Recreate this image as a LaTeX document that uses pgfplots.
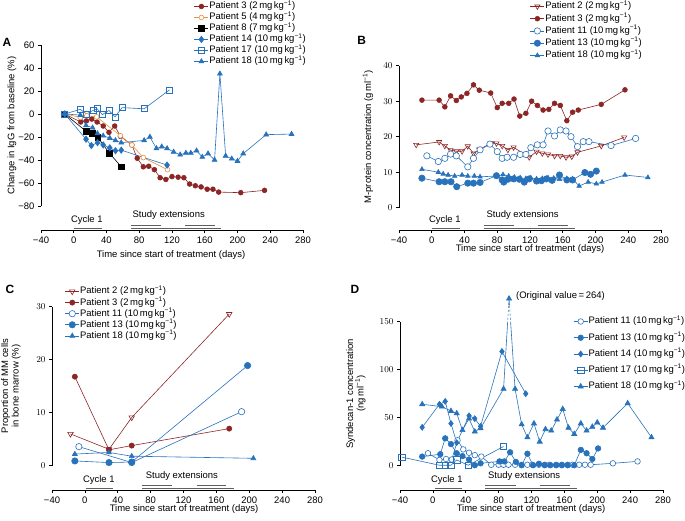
\documentclass[border=0pt]{standalone}
\usepackage{fontspec}
\setmainfont{Liberation Sans}
\usepackage{pgfplots}
\pgfplotsset{compat=1.18}
\definecolor{pred}{RGB}{140,38,38}
\definecolor{pblue}{RGB}{40,114,188}
\definecolor{porange}{RGB}{230,150,70}
\definecolor{bargray}{RGB}{95,95,95}
\newcommand{\mgkg}[1]{(#1\,mg\,kg\textsuperscript{−1})}
\newcommand{\fs}{\fontsize{9.5}{10.5}\selectfont}
\pgfplotsset{
  panel/.style={
    scale only axis, anchor=south west, clip=false,
    xmin=-40, xmax=280,
    axis x line*=bottom, axis y line*=left,
    axis line style={-, line width=0.6bp},
    y axis line style={draw=none},
    tick align=outside, major tick length=3bp,
    tick style={black, line width=0.6bp},
    xtick={-40,0,40,80,120,160,200,240,280},
    xticklabels={−40,0,40,80,120,160,200,240,280},
    tick label style={font=\fs},
    legend cell align=left,
    legend style={draw=none, fill=none, font=\fs, anchor=north west, inner sep=0pt, outer sep=0pt,
      nodes={inner sep=0.5bp, text height=7.5bp, text depth=2.5bp}},
    legend image code/.code={\draw[mark repeat=2,mark phase=2] plot coordinates {(0cm,0cm) (0.25cm,0cm) (0.5cm,0cm)};},
    every axis plot/.append style={line width=0.6bp},
  },
}
\begin{document}
\begin{tikzpicture}
\path[use as bounding box] (0,0) rectangle (685bp,-521bp);

% ---------------- Panel A ----------------
\begin{axis}[panel, at={(41bp,-230bp)}, width=262bp, height=185bp,
  ymin=-101, ymax=60, ytick={-80,-60,-40,-20,0,20,40,60},
  yticklabels={−80,−60,−40,−20,0,20,40,60},
  legend style={at={(0.584,1.238)}, row sep=0bp}]
\addplot[pred, mark=*, mark size=2.4bp, mark options={fill=pred}] coordinates {
(-11,0) (8.5,-7) (15.5,-6) (22,-4.5) (28.5,-7) (36,-10.5) (43,-16) (50,-10.5) (57,-19.5) (71,-27) (77.5,-38.5) (85,-46) (91.5,-45.5) (98.5,-48.5) (105.5,-55.5) (112.5,-57) (120,-54.5) (127.5,-55) (134.5,-55.5) (141.5,-61) (148.5,-62.5) (155.5,-63.5) (163,-65.5) (170,-65.5) (177,-68) (204,-68.5) (233,-66.5)};
\addlegendentry{Patient 3 \mgkg{2}}
\addplot[porange, mark=*, mark size=2.4bp, mark options={fill=white}] coordinates {
(-11,0) (8,-3) (16,-1.5) (28,-2.5) (57,-19) (71,-27) (85,-38) (114.5,-48.5)};
\addlegendentry{Patient 5 \mgkg{4}}
\addplot[black, mark=square*, mark size=2.8bp, mark options={fill=black}] coordinates {
(-11,0) (15,-15) (22.5,-17) (29.5,-20.5) (43.5,-34) (58,-46)};
\addlegendentry{Patient 8 \mgkg{7}}
\addplot[pblue, mark=diamond*, mark size=3.2bp, mark options={fill=pblue}] coordinates {
(-11,0) (15,-22) (21.5,-27.5) (29,-25) (36,-27) (44,-29.5) (51,-32) (58,-31.5) (114,-44.5)};
\addlegendentry{Patient 14 \mgkg{10}}
\addplot[pblue, mark=square, mark size=3bp, mark options={fill=white}] coordinates {
(-11,0) (8,4) (15.5,0) (23.5,3) (28.5,4.5) (35,-0.5) (43,3) (50.5,-2.5) (59,5.5) (86,4.5) (117,21)};
\addlegendentry{Patient 17 \mgkg{10}}
\addplot[pblue, mark=triangle*, mark size=2.8bp, mark options={fill=pblue}] coordinates {
(-11,0) (8,-1) (15,-10) (23,-12) (29,-17) (36,-19) (44,-21) (51,-23) (58,-25) (86,-23) (93,-20) (101,-30) (107.5,-28.5) (114,-30) (122,-33) (130,-35.5) (137,-34) (143,-34) (150,-32) (157,-37.5) (164,-34.5) (172,-40) (178.5,35) (185.5,-36.5) (193,-39) (200,-41) (207,-34.5) (235,-18) (266,-17.5)};
\addlegendentry{Patient 18 \mgkg{10}}
\draw[line width=0.6bp] (axis cs:-40,-80) -- (axis cs:-40,60);
\draw[bargray, line width=0.9bp] ([yshift=2bp]axis cs:0,-101) -- ([yshift=2bp]axis cs:34,-101);
\draw[bargray, line width=0.9bp] ([yshift=2bp]axis cs:70,-101) -- ([yshift=2bp]axis cs:180,-101);
\draw[bargray, line width=0.9bp] ([yshift=4.5bp]axis cs:70,-101) -- ([yshift=4.5bp]axis cs:106,-101);
\draw[bargray, line width=0.9bp] ([yshift=4.5bp]axis cs:136,-101) -- ([yshift=4.5bp]axis cs:172,-101);
\node[font=\fs] at ([yshift=10bp]axis cs:16,-101) {Cycle 1};
\node[font=\fs] at ([yshift=15bp]axis cs:116,-101) {Study extensions};
\end{axis}

% ---------------- Panel B ----------------
\begin{axis}[panel, at={(399bp,-230bp)}, width=262bp, height=164.3bp,
  ymin=-6.3, ymax=40, ytick={0,10,20,30,40},
  legend style={at={(0.5,1.394)}, row sep=1.25bp}]
\addplot[pred, mark=triangle, mark size=3bp, mark options={rotate=180, fill=white}] coordinates {
(-19,17.7) (9,18.5) (16,17.4) (23,16.2) (30,15.9) (37,15.9) (44,17.3) (51,15.3) (58,16.4) (73,18.2) (79,18.1) (86,17.4) (93,16.3) (100,17) (119,14.2) (128,15.8) (135,15.3) (142,15) (150,14.6) (157,14.6) (164,14.2) (171,14.4) (178,15.6) (207,17.4) (235,19.8)};
\addlegendentry{Patient 2 \mgkg{2}}
\addplot[pred, mark=*, mark size=2.4bp, mark options={fill=pred}] coordinates {
(-12,30.3) (9,30.3) (16,28.4) (23,31.5) (30,30.2) (36,31.2) (43,32.2) (51,34.6) (58,33.1) (72,32.3) (80,28.2) (86,29.4) (94,29.4) (100.5,30.6) (107.5,25.8) (115,26.6) (122,30) (129,28.8) (136,27.5) (143,27.7) (150,29.4) (157,28.8) (165,24.5) (172,26.9) (179,27.5) (207,29.1) (236,33.2)};
\addlegendentry{Patient 3 \mgkg{2}}
\addplot[pblue, mark=*, mark size=3.2bp, mark options={fill=white}] coordinates {
(-6,14.6) (8,13) (16,13.9) (23,15.1) (30,14.6) (44,11.5) (51,13.9) (59,16.3) (71,17.9) (80,15.8) (86,13.9) (92,14.2) (100,14.2) (108,15) (115,15) (121,16.9) (129,17.7) (136,17.7) (142,21.6) (150,20.2) (157,21.9) (164,21.6) (170,20) (178,17.2) (185,18.6) (192,18.6) (219,17.5) (249,19.5)};
\addlegendentry{Patient 11 \mgkg{10}}
\addplot[pblue, mark=*, mark size=3.2bp, mark options={fill=pblue}] coordinates {
(-12,8.3) (9,7.3) (16,7.3) (23.5,7.3) (30.5,5.9) (44,6.9) (51,6.9) (59,7.1) (79,9) (86,7.8) (88,7.2) (93,8) (100,8.1) (107,8) (113,7.2) (119,8.1) (128,7.5) (134,7.6) (140,8.1) (147,7.7) (156,9.2) (165,7.8) (172,7.8) (187,9.9) (194,9.4) (201,10.3)};
\addlegendentry{Patient 13 \mgkg{10}}
\addplot[pblue, mark=triangle*, mark size=2.6bp, mark options={fill=pblue}] coordinates {
(-12,10.8) (8,10) (14,9.5) (20,9.2) (28,8.9) (37,9.2) (44,8.9) (52,8.9) (59,8.7) (80,8.9) (87,9.3) (94,8.9) (101,8.6) (108,8.4) (115,8.2) (121,8.4) (128,8.1) (135,8.2) (142,8.4) (149,8.3) (156,8.0) (165,8.2) (172,8.1) (180,6.1) (191,7.2) (201,6.7) (208,7.2) (236,9.2) (264,8.5)};
\addlegendentry{Patient 18 \mgkg{10}}
\draw[line width=0.6bp] (axis cs:-40,0) -- (axis cs:-40,40);
\draw[bargray, line width=0.9bp] ([yshift=2bp]axis cs:0,-6.3) -- ([yshift=2bp]axis cs:35,-6.3);
\draw[bargray, line width=0.9bp] ([yshift=2bp]axis cs:64,-6.3) -- ([yshift=2bp]axis cs:175,-6.3);
\draw[bargray, line width=0.9bp] ([yshift=4.5bp]axis cs:64,-6.3) -- ([yshift=4.5bp]axis cs:101,-6.3);
\draw[bargray, line width=0.9bp] ([yshift=4.5bp]axis cs:130,-6.3) -- ([yshift=4.5bp]axis cs:167,-6.3);
\node[font=\fs] at ([yshift=10bp]axis cs:16,-6.3) {Cycle 1};
\node[font=\fs] at ([yshift=15bp]axis cs:111,-6.3) {Study extensions};
\end{axis}

% ---------------- Panel C ----------------
\begin{axis}[panel, at={(52bp,-490bp)}, width=263bp, height=183.3bp,
  ymin=-4.58, ymax=30, ytick={0,10,20,30},
  legend style={at={(0.049,1.113)}, row sep=0.1bp}]
\addplot[pred, mark=triangle, mark size=3.2bp, mark options={rotate=180, fill=white}] coordinates {
(-17.5,6) (29.3,3.1) (57,9.1) (175.6,28.6)};
\addlegendentry{Patient 2 \mgkg{2}}
\addplot[pred, mark=*, mark size=2.6bp, mark options={fill=pred}] coordinates {
(-12.2,16.8) (29.3,3) (57,3.8) (175.6,7)};
\addlegendentry{Patient 3 \mgkg{2}}
\addplot[pblue, mark=*, mark size=3.2bp, mark options={fill=white}] coordinates {
(-7.3,3.6) (57,0.6) (190.7,10.2)};
\addlegendentry{Patient 11 \mgkg{10}}
\addplot[pblue, mark=*, mark size=3.2bp, mark options={fill=pblue}] coordinates {
(-12.2,0.9) (29.3,0.6) (57,0.7) (198,18.9)};
\addlegendentry{Patient 13 \mgkg{10}}
\addplot[pblue, mark=triangle*, mark size=2.8bp, mark options={fill=pblue}] coordinates {
(-12.2,2.2) (29.3,2.5) (57,1.8) (205,1.4)};
\addlegendentry{Patient 18 \mgkg{10}}
\draw[line width=0.6bp] (axis cs:-40,0) -- (axis cs:-40,30);
\draw[bargray, line width=0.9bp] ([yshift=2bp]axis cs:1,-4.58) -- ([yshift=2bp]axis cs:34,-4.58);
\draw[bargray, line width=0.9bp] ([yshift=2bp]axis cs:70,-4.58) -- ([yshift=2bp]axis cs:181,-4.58);
\draw[bargray, line width=0.9bp] ([yshift=4.5bp]axis cs:70,-4.58) -- ([yshift=4.5bp]axis cs:106,-4.58);
\draw[bargray, line width=0.9bp] ([yshift=4.5bp]axis cs:136,-4.58) -- ([yshift=4.5bp]axis cs:172,-4.58);
\node[font=\fs] at ([yshift=9.5bp]axis cs:17,-4.58) {Cycle 1};
\node[font=\fs] at ([yshift=14bp]axis cs:118,-4.58) {Study extensions};
\end{axis}

% ---------------- Panel D ----------------
\begin{axis}[panel, at={(400bp,-490bp)}, width=263bp, height=168.3bp,
  ymin=-25.3, ymax=150, ytick={0,50,100,150},
  legend style={at={(0.659,1.034)}, row sep=5.25bp}]
\addplot[pblue, mark=*, mark size=2.8bp, mark options={fill=white}] coordinates {
(-6,13) (8,6) (16,7) (23,6.5) (30,26.5) (37,17) (44,13.5) (51,11) (59,9.5) (71,1) (80,1) (86,1) (92,1) (100,1) (108,1) (115,1) (121,1) (129,1) (136,1) (142,1) (150,1) (157,1) (164,1) (170,1) (178,1) (185,1) (192,1) (219,2.5) (249,4.5)};
\addlegendentry{Patient 11 \mgkg{10}}
\addplot[pblue, mark=*, mark size=2.8bp, mark options={fill=pblue}] coordinates {
(-13,9.5) (9,12) (15,28.5) (22,22.5) (29,13) (36,10) (44,6.5) (51,0.5) (58,2.5) (81,4.5) (87,4.5) (94,14) (101,4) (108,0.5) (115,12.5) (122,0.5) (129,2) (136,0.5) (143,0.5) (150,0.5) (157,0.5) (164,0.5) (172,0.5) (180,16.5) (187,13) (194,7) (201,18)};
\addlegendentry{Patient 13 \mgkg{10}}
\addplot[pblue, mark=diamond*, mark size=3bp, mark options={fill=pblue}] coordinates {
(-13,40) (8,64) (15,67) (22,44) (29,24) (44,52) (51,49) (58,41) (84,119) (113,75)};
\addlegendentry{Patient 14 \mgkg{10}}
\addplot[pblue, mark=square, mark size=3.2bp, mark options={fill=white}] coordinates {
(-38,9) (8,0.5) (15,0.5) (22,0.5) (29,6) (43,0.5) (86,20)};
\addlegendentry{Patient 17 \mgkg{10}}
\addplot[pblue, mark=triangle*, mark size=3bp, mark options={fill=pblue}] coordinates {
(-13,64) (11,61.5) (22,57) (29,54.5) (36,37) (44,49) (51,35.5) (58,39) (86,80) (92.7,174) (100,80) (108,43) (115,29.5) (123,44) (130,25) (137,38) (144,36.5) (151,48) (158,59) (165,39.5) (172,33) (180,44) (187,36.5) (194,40.5) (200,45) (207,39.5) (237,65) (266,29.5)};
\addlegendentry{Patient 18 \mgkg{10}}
% break marks on the clipped peak
\draw[white, line width=2bp, dash pattern=on 2bp off 2bp] (axis cs:91,150) -- (axis cs:92.2,167);
\draw[white, line width=2bp, dash pattern=on 2bp off 2bp] (axis cs:94.5,150) -- (axis cs:93.2,167);
\draw[line width=0.6bp] (axis cs:-40,0) -- (axis cs:-40,150);
\node[font=\fs, anchor=west] at (axis cs:97,177) {(Original value\,=\,264)};
\draw[bargray, line width=0.9bp] ([yshift=2bp]axis cs:2,-25.3) -- ([yshift=2bp]axis cs:35,-25.3);
\draw[bargray, line width=0.9bp] ([yshift=2bp]axis cs:64,-25.3) -- ([yshift=2bp]axis cs:175,-25.3);
\draw[bargray, line width=0.9bp] ([yshift=4.5bp]axis cs:64,-25.3) -- ([yshift=4.5bp]axis cs:101,-25.3);
\draw[bargray, line width=0.9bp] ([yshift=4.5bp]axis cs:130,-25.3) -- ([yshift=4.5bp]axis cs:167,-25.3);
\node[font=\fs] at ([yshift=9.5bp]axis cs:17,-25.3) {Cycle 1};
\node[font=\fs] at ([yshift=14bp]axis cs:111,-25.3) {Study extensions};
\end{axis}

% ---------------- labels ----------------
\node[font=\bfseries\fontsize{12}{12}\selectfont] at (7bp,-42bp) {A};
\node[font=\bfseries\fontsize{12}{12}\selectfont] at (361.7bp,-40bp) {B};
\node[font=\bfseries\fontsize{12}{12}\selectfont] at (10bp,-289bp) {C};
\node[font=\bfseries\fontsize{12}{12}\selectfont] at (355bp,-289bp) {D};
\node[font=\fs, rotate=90] at (12bp,-125.5bp) {Change in IgG from baseline (\%)};
\node[font=\fs, rotate=90] at (368bp,-136.7bp) {M-protein concentration (g\,ml\textsuperscript{−1})};
\node[font=\fs, rotate=90, align=center] at (11bp,-386bp) {Proportion of MM cells\\in bone marrow (\%)};
\node[font=\fs, rotate=90, align=center] at (356bp,-393.7bp) {Syndecan-1 concentration\\(ng\,ml\textsuperscript{−1})};
\node[font=\fs] at (171bp,-255bp) {Time since start of treatment (days)};
\node[font=\fs] at (530bp,-249.5bp) {Time since start of treatment (days)};
\node[font=\fs] at (184bp,-509.5bp) {Time since start of treatment (days)};
\node[font=\fs] at (531bp,-509.5bp) {Time since start of treatment (days)};
\end{tikzpicture}
\end{document}
